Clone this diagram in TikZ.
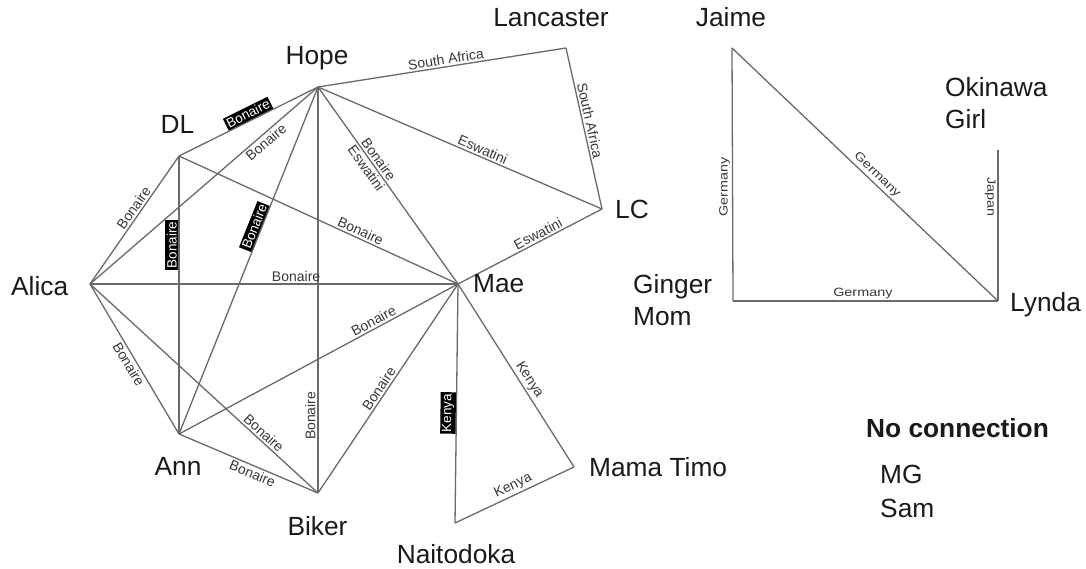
\documentclass[tikz,border=0pt]{standalone}
\usepackage{fontspec}
\setmainfont{Liberation Sans}
\usepackage{graphicx}
\definecolor{linegray}{HTML}{6A6A6A}
\definecolor{lblcol}{HTML}{383838}
\definecolor{namecol}{HTML}{1A1A1A}
\tikzset{
  edge/.style={draw=linegray, line width=1.3pt},
  lbl/.style={font=\fontsize{14}{16}\selectfont, text=lblcol, inner sep=1.8pt},
  hl/.style={font=\fontsize{13.5}{16}\selectfont, fill=black, text=white, inner sep=1.6pt},
  sml/.style={font=\fontsize{12}{14}\selectfont, text=lblcol, inner sep=1.8pt},
  pname/.style={font=\fontsize{26.3}{32}\selectfont, text=namecol, inner sep=0pt},
}
\newcommand{\wide}[1]{\scalebox{1.2}[1]{#1}}
\begin{document}
\begin{tikzpicture}[x=1pt,y=-1pt]
\fill[white] (0,0) rectangle (1086,569);
\useasboundingbox (0,0) rectangle (1086,569);
% vertex points
\coordinate (hope) at (318,87);
\coordinate (dl) at (179,156);
\coordinate (alica) at (90,284);
\coordinate (mae) at (458,284);
\coordinate (ann) at (179,434);
\coordinate (biker) at (318,493);
\coordinate (lanc) at (566,48);
\coordinate (lc) at (602,209);
\coordinate (nait) at (455,523);
\coordinate (mama) at (574,467);
\coordinate (jaime) at (732,48);
\coordinate (gm) at (733,301);
\coordinate (lynda) at (998,301);
\coordinate (okt) at (998,150);
% edges
\draw[edge] (alica) -- node[lbl, sloped, below, pos=0.75]{Bonaire} (hope);
\draw[edge] (ann) -- node[hl, sloped, above, pos=0.59]{Bonaire} (hope);
\draw[edge] (biker) -- node[lbl, rotate=90, anchor=south, pos=0.19]{Bonaire} (hope);
\draw[edge] (hope) -- node[lbl, sloped, above, pos=0.39]{Bonaire} node[lbl, sloped, below, pos=0.39]{Eswatini} (mae);
\draw[edge] (hope) -- node[lbl, sloped, above, pos=0.57]{Eswatini} (lc);
\draw[edge] (hope) -- node[lbl, sloped, above, pos=0.52]{South Africa} (lanc);
\draw[edge] (lanc) -- node[lbl, sloped, above, pos=0.46]{South Africa} (lc);
\draw[edge] (mae) -- node[lbl, sloped, above, pos=0.58]{Eswatini} (lc);
\draw[edge] (alica) -- node[lbl, sloped, above, pos=0.56]{Bonaire} (dl);
\draw[edge] (ann) -- node[hl, rotate=90, anchor=south, pos=0.68]{Bonaire} (dl);
\draw[edge] (dl) -- node[lbl, sloped, above, pos=0.64]{Bonaire} (mae);
\draw[edge] (dl) -- node[hl, sloped, above, pos=0.52]{Bonaire} (hope);
\draw[edge] (alica) -- node[lbl, sloped, above, pos=0.56]{Bonaire} (mae);
\draw[edge] (alica) -- node[lbl, sloped, below, pos=0.51]{Bonaire} (ann);
\draw[edge] (alica) -- node[lbl, sloped, above, pos=0.74]{Bonaire} (biker);
\draw[edge] (ann) -- node[lbl, sloped, below, pos=0.55]{Bonaire} (biker);
\draw[edge] (ann) -- node[lbl, sloped, above, pos=0.71]{Bonaire} (mae);
\draw[edge] (biker) -- node[lbl, sloped, above, pos=0.48]{Bonaire} (mae);
\draw[edge] (nait) -- node[hl, sloped, above, pos=0.46]{Kenya} (mae);
\draw[edge] (mae) -- node[lbl, sloped, above, pos=0.55]{Kenya} (mama);
\draw[edge] (nait) -- node[lbl, sloped, above, pos=0.52]{Kenya} (mama);
\draw[edge] (gm) -- node[sml, rotate=90, anchor=south, pos=0.45]{\wide{Germany}} (jaime);
\draw[edge] (jaime) -- node[sml, sloped, above, pos=0.525]{\wide{Germany}} (lynda);
\draw[edge] (gm) -- node[sml, above, pos=0.49]{\wide{Germany}} (lynda);
\draw[edge] (okt) -- node[sml, rotate=-90, anchor=north, pos=0.31]{\wide{Japan}} (lynda);
% names
\node[pname, anchor=base] (hopeT) at (317,65) {Hope};
\node[pname, anchor=base] (dlT) at (177.5,134) {DL};
\node[pname, anchor=base] (lancT) at (551,27) {Lancaster};
\node[pname, anchor=base west] (maeT) at (473,292) {Mae};
\node[pname, anchor=base] (annT) at (178,475) {Ann};
\node[pname, anchor=base] (bikerT) at (317.5,535) {Biker};
\node[pname, anchor=base west] (alicaT) at (11,295) {Alica};
\node[pname, anchor=base west] (lcT) at (615,219) {LC};
\node[pname, anchor=base] (naitT) at (456,563) {Naitodoka};
\node[pname, anchor=base west] (mamaT) at (589,476.7) {Mama Timo};
\node[pname, anchor=base west, align=left] (gmT) at (633,325) {Ginger\\Mom};
\node[pname, anchor=base] (jaimeT) at (731,26.7) {Jaime};
\node[pname, anchor=base west, align=left] (okT) at (945,128.3) {Okinawa\\Girl};
\node[pname, anchor=base west] (lyndaT) at (1010,311) {Lynda};
\node[pname, anchor=base west, font=\fontsize{26.3}{32}\selectfont\bfseries] (noconT) at (866,437) {No connection};
\node[pname, anchor=base west] (mgT) at (880,483) {MG};
\node[pname, anchor=base west] (samT) at (880,517) {Sam};
\end{tikzpicture}
\end{document}
